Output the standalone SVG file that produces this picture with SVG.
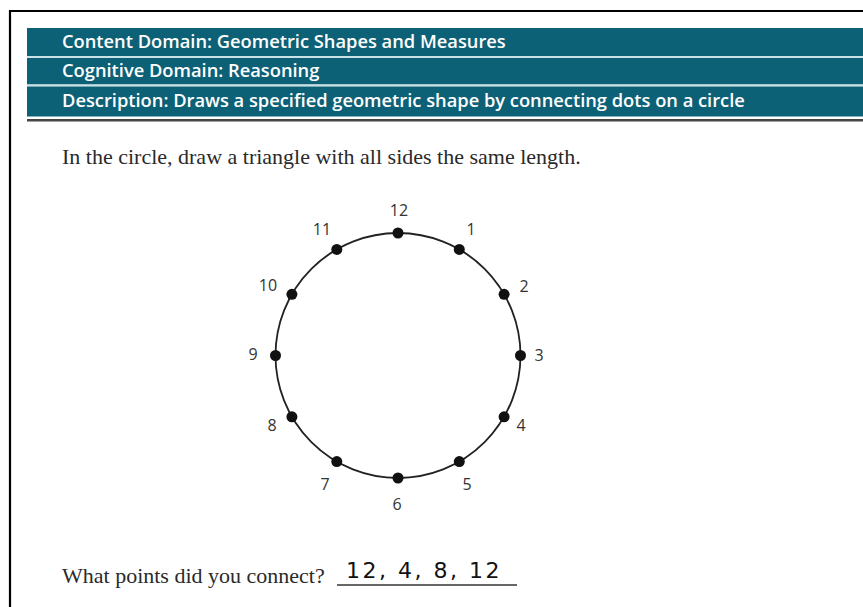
<svg xmlns="http://www.w3.org/2000/svg" width="863" height="607" viewBox="0 0 863 607">
<style>
.bar{fill:#0d6176}
.sep{fill:#c9e2e6}
.hdr{font-family:"Open Sans","Liberation Sans",sans-serif;font-weight:600;font-size:18.3px;fill:#ffffff}
.ser{font-family:"Liberation Serif",serif;font-size:22px;fill:#2a2a2a}
.num{font-family:"Open Sans","Liberation Sans",sans-serif;font-size:16px;fill:#333333;text-anchor:middle}
.dot{fill:#111111}
.hand{font-family:"DejaVu Sans",sans-serif;font-size:22px;fill:#111111}
</style>
<rect width="863" height="607" fill="#ffffff"/>
<path d="M10 607V11H863" fill="none" stroke="#000000" stroke-width="2.2"/>
<g id="header">
<rect class="bar" x="27" y="28" width="836" height="28"/>
<rect class="sep" x="27" y="56" width="836" height="2"/>
<rect class="bar" x="27" y="58" width="836" height="26.5"/>
<rect class="sep" x="27" y="84.5" width="836" height="2"/>
<rect class="bar" x="27" y="86.5" width="836" height="30"/>
<rect x="27" y="119" width="836" height="2.5" fill="#4a4545"/>
<text class="hdr" x="62" y="48">Content Domain: Geometric Shapes and Measures</text>
<text class="hdr" x="62" y="77">Cognitive Domain: Reasoning</text>
<text class="hdr" x="62" y="107">Description: Draws a specified geometric shape by connecting dots on a circle</text>
</g>
<text class="ser" x="62" y="164">In the circle, draw a triangle with all sides the same length.</text>
<g id="clock">
<circle cx="398" cy="355.5" r="122.5" fill="none" stroke="#222222" stroke-width="1.8"/>
<circle class="dot" cx="398" cy="233" r="5.5"/>
<circle class="dot" cx="459.3" cy="249.4" r="5.5"/>
<circle class="dot" cx="504.1" cy="294.3" r="5.5"/>
<circle class="dot" cx="520.5" cy="355.5" r="5.5"/>
<circle class="dot" cx="504.1" cy="416.8" r="5.5"/>
<circle class="dot" cx="459.3" cy="461.6" r="5.5"/>
<circle class="dot" cx="398" cy="478" r="5.5"/>
<circle class="dot" cx="336.8" cy="461.6" r="5.5"/>
<circle class="dot" cx="291.9" cy="416.8" r="5.5"/>
<circle class="dot" cx="275.5" cy="355.5" r="5.5"/>
<circle class="dot" cx="291.9" cy="294.3" r="5.5"/>
<circle class="dot" cx="336.8" cy="249.4" r="5.5"/>
<text class="num" x="399" y="216">12</text>
<text class="num" x="471" y="235">1</text>
<text class="num" x="524" y="292">2</text>
<text class="num" x="539" y="361">3</text>
<text class="num" x="521" y="431">4</text>
<text class="num" x="467" y="490">5</text>
<text class="num" x="397" y="510">6</text>
<text class="num" x="325" y="490">7</text>
<text class="num" x="272" y="431">8</text>
<text class="num" x="253" y="360">9</text>
<text class="num" x="268" y="291">10</text>
<text class="num" x="322" y="235">11</text>
</g>
<text class="ser" x="62" y="583">What points did you connect?</text>
<line x1="337" y1="585" x2="517" y2="585" stroke="#333333" stroke-width="1.5"/>
<text class="hand" x="346" y="578" letter-spacing="2.5">12, 4, 8, 12</text>
</svg>
